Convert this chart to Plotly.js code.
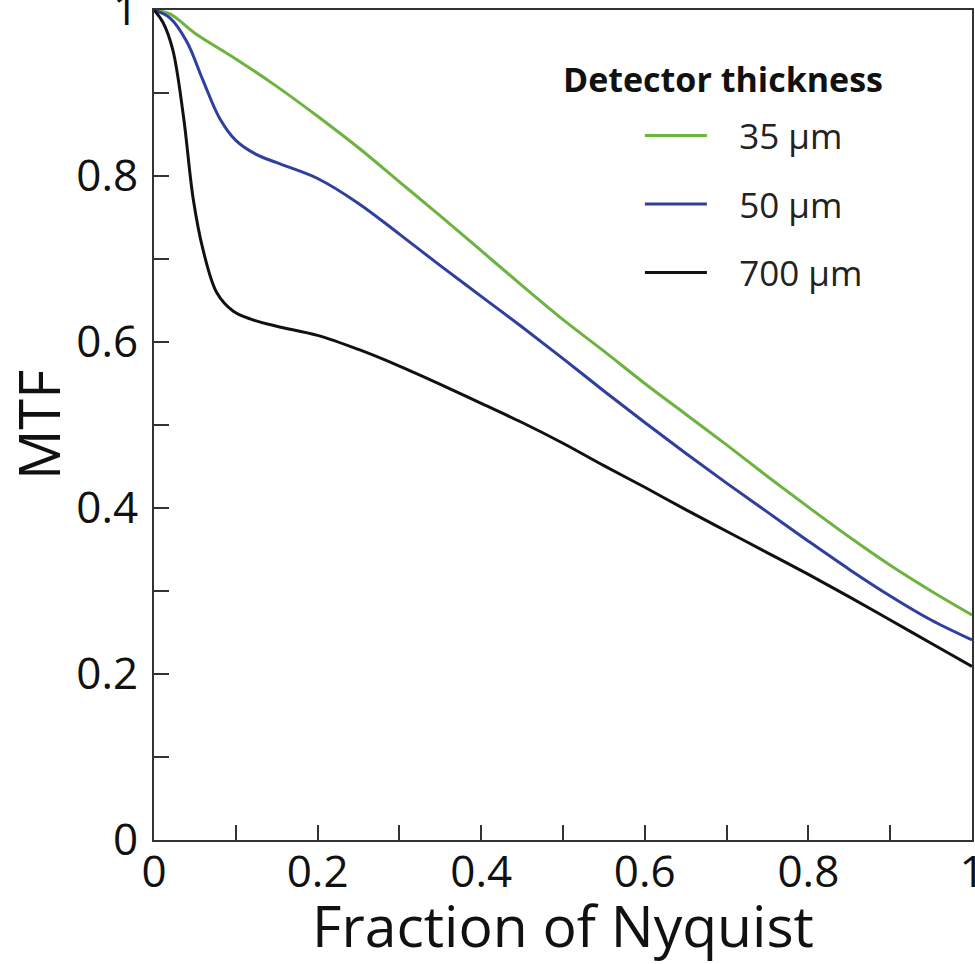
<!DOCTYPE html>
<html>
<head>
<meta charset="utf-8">
<script src="https://cdn.plot.ly/plotly-3.0.1.min.js"></script>
<style>html,body{margin:0;padding:0;background:#fff;}#chart{width:975px;height:964px;}</style>
</head>
<body>
<div id="chart"></div>
<script>
// MTF vs fraction of Nyquist for three detector thicknesses
const seriesNames = ["35 \u00b5m", "50 \u00b5m", "700 \u00b5m"];

const x35 = [0, 0.02, 0.05, 0.10, 0.15, 0.20, 0.25, 0.30, 0.35, 0.40, 0.45, 0.50, 0.55, 0.60, 0.65, 0.70, 0.75, 0.80, 0.85, 0.90, 0.95, 1.0];
const y35 = [1.0, 0.995, 0.972, 0.941, 0.908, 0.872, 0.834, 0.793, 0.752, 0.710, 0.668, 0.627, 0.589, 0.550, 0.513, 0.476, 0.438, 0.401, 0.365, 0.331, 0.300, 0.271];

const x50 = [0, 0.02, 0.04, 0.06, 0.08, 0.10, 0.125, 0.15, 0.20, 0.25, 0.30, 0.35, 0.40, 0.45, 0.50, 0.55, 0.60, 0.65, 0.70, 0.75, 0.80, 0.85, 0.90, 0.95, 1.0];
const y50 = [1.0, 0.99, 0.962, 0.915, 0.870, 0.843, 0.826, 0.816, 0.797, 0.767, 0.730, 0.692, 0.655, 0.618, 0.580, 0.541, 0.503, 0.466, 0.430, 0.395, 0.360, 0.326, 0.294, 0.265, 0.241];

const x700 = [0, 0.011, 0.023, 0.036, 0.048, 0.06, 0.077, 0.097, 0.12, 0.15, 0.20, 0.25, 0.30, 0.35, 0.40, 0.45, 0.50, 0.55, 0.60, 0.65, 0.70, 0.75, 0.80, 0.85, 0.90, 0.95, 1.0];
const y700 = [1.0, 0.985, 0.952, 0.872, 0.772, 0.711, 0.659, 0.637, 0.627, 0.619, 0.608, 0.591, 0.571, 0.549, 0.526, 0.503, 0.478, 0.451, 0.425, 0.398, 0.372, 0.346, 0.320, 0.293, 0.265, 0.237, 0.209];

const xTickVals = [0, 0.2, 0.4, 0.6, 0.8, 1];
const xTickText = ["0", "0.2", "0.4", "0.6", "0.8", "1"];
const yTickVals = [0, 0.2, 0.4, 0.6, 0.8, 1];
const yTickText = ["0", "0.2", "0.4", "0.6", "0.8", "1"];

const colors = ["#6cb33f", "#2f3f9e", "#111111"];
const xs = [x35, x50, x700];
const ys = [y35, y50, y700];
const pad = "\u00a0\u00a0\u00a0";

const traces = seriesNames.map((name, i) => ({
  type: "scatter",
  mode: "lines",
  name: pad + name,
  x: xs[i],
  y: ys[i],
  legendgroup: "g" + i,
  line: {color: colors[i], width: 3, shape: "spline", smoothing: 1}
}));

const tickFont = {family: "Open Sans, sans-serif", size: 44, color: "#111"};

const layout = {
  width: 975,
  height: 964,
  paper_bgcolor: "#fff",
  plot_bgcolor: "#fff",
  margin: {l: 154, r: 3, t: 10, b: 124},
  showlegend: true,
  legend: {
    x: 0.594, xanchor: "left",
    y: 0.884, yanchor: "top",
    font: {family: "Open Sans, sans-serif", size: 35, color: "#222"},
    bgcolor: "rgba(0,0,0,0)",
    itemwidth: 62,
    tracegroupgap: 20
  },
  xaxis: {
    range: [0, 1],
    showgrid: false, zeroline: false,
    showline: true, linecolor: "#333", linewidth: 2, mirror: true,
    ticks: "inside", ticklen: 15, tickwidth: 2, tickcolor: "#333",
    tickvals: xTickVals, ticktext: xTickText,
    minor: {dtick: 0.1, tick0: 0, ticks: "inside", ticklen: 15, tickwidth: 2, tickcolor: "#333", showgrid: false},
    tickfont: tickFont,
    ticklabeloverflow: "allow",
    ticklabelstandoff: -8,
    title: {text: "Fraction of Nyquist", font: {family: "Open Sans, sans-serif", size: 57, color: "#111"}, standoff: 8}
  },
  yaxis: {
    range: [0, 1],
    showgrid: false, zeroline: false,
    showline: true, linecolor: "#333", linewidth: 2, mirror: true,
    ticks: "inside", ticklen: 15, tickwidth: 2, tickcolor: "#333",
    tickvals: yTickVals, ticktext: yTickText,
    minor: {dtick: 0.1, tick0: 0, ticks: "inside", ticklen: 15, tickwidth: 2, tickcolor: "#333", showgrid: false},
    tickfont: tickFont,
    ticklabeloverflow: "allow",
    ticklabelstandoff: 5,
    title: {text: "MTF", font: {family: "Open Sans, sans-serif", size: 56, color: "#111"}, standoff: 16}
  },
  annotations: [{
    text: "<b>Detector thickness</b>",
    xref: "paper", yref: "paper",
    x: 0.696, y: 0.917, xanchor: "center", yanchor: "middle",
    showarrow: false,
    font: {family: "Open Sans, sans-serif", size: 34, color: "#111"}
  }]
};

Plotly.newPlot("chart", traces, layout, {staticPlot: true, displayModeBar: false});
</script>
</body>
</html>
